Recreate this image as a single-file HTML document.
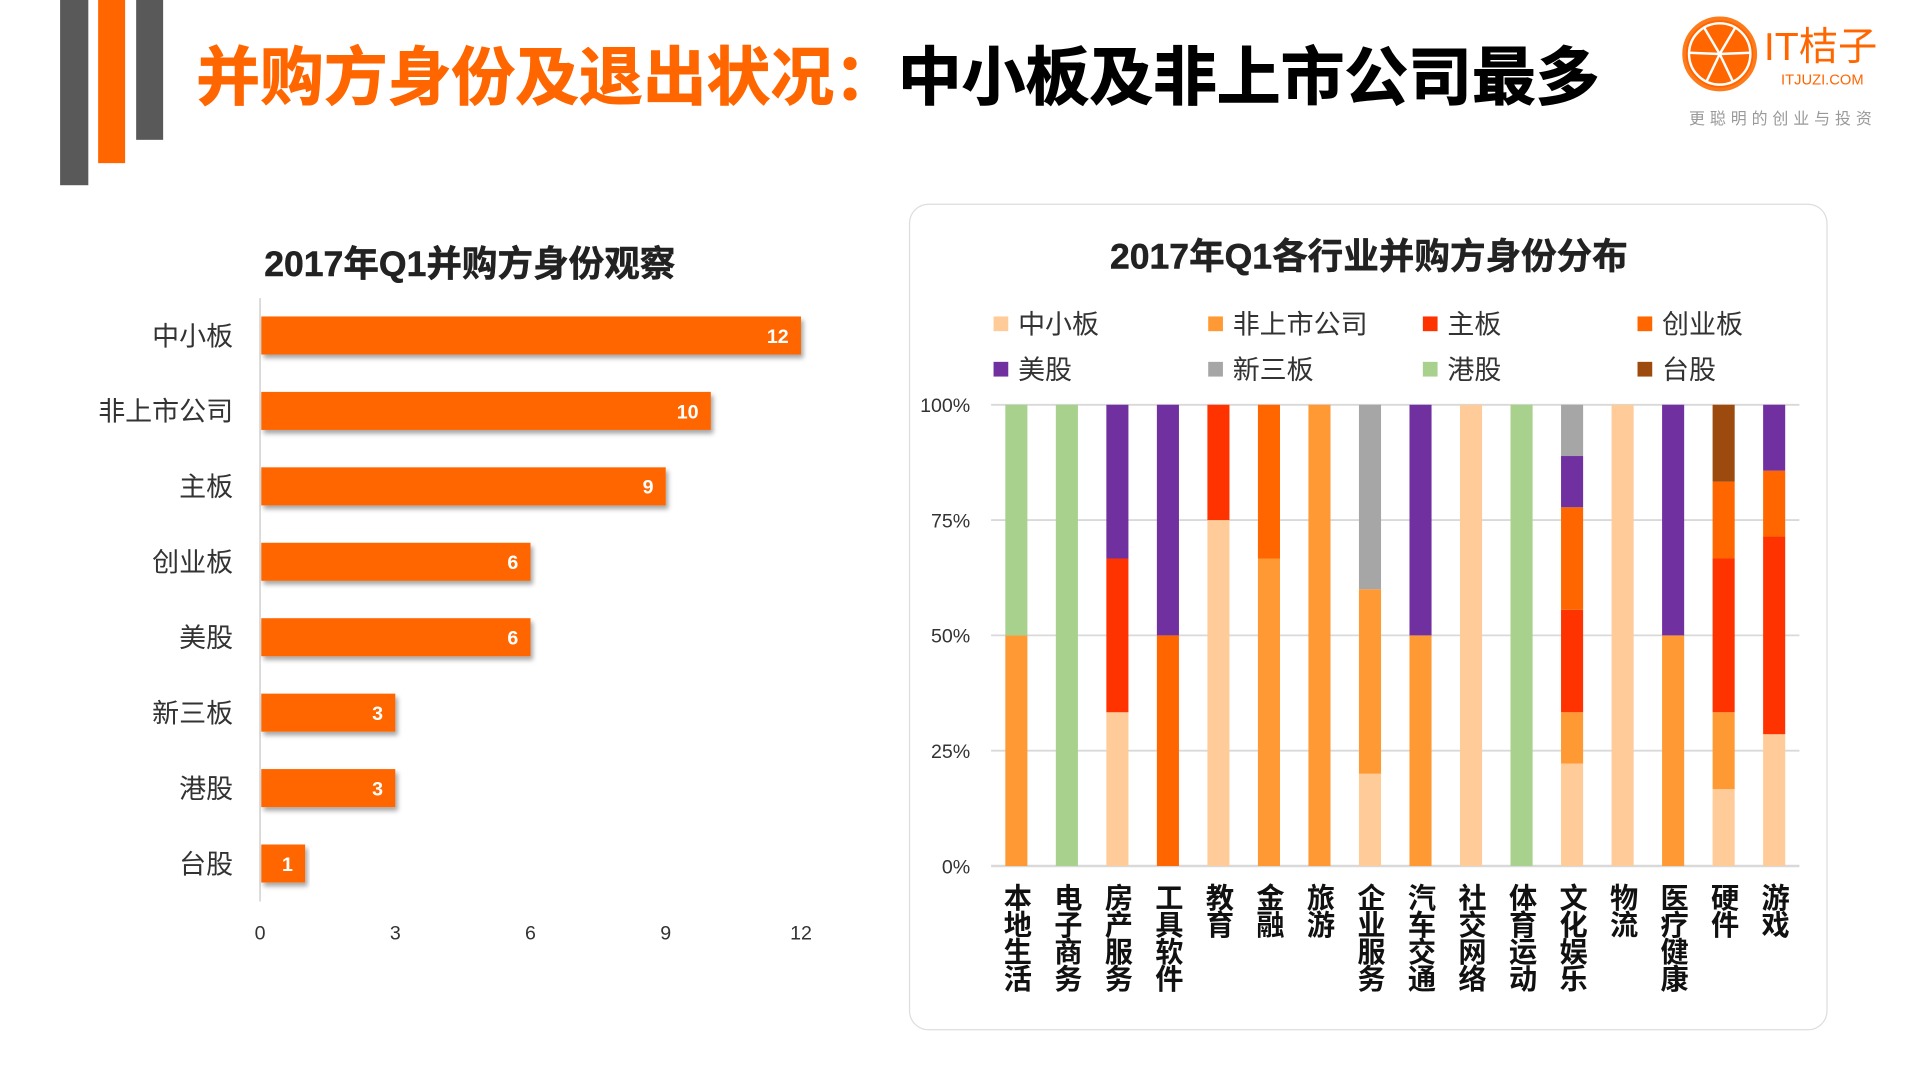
<!DOCTYPE html>
<html><head><meta charset="utf-8">
<style>
html,body{margin:0;padding:0;background:#fff;width:1920px;height:1080px;overflow:hidden}
#stage{position:absolute;left:0;top:0;width:1566px;height:881px;transform:scale(1.2266);transform-origin:0 0;font-family:"Liberation Sans","Noto Sans CJK SC",sans-serif}
.abs{position:absolute}
</style></head>
<body>
<div id="stage">
  <div class="abs" style="left:49px;top:0;width:23px;height:151px;background:#595959"></div>
  <div class="abs" style="left:80px;top:0;width:22px;height:133px;background:#FF6600"></div>
  <div class="abs" style="left:111px;top:0;width:22px;height:114px;background:#595959"></div>
  <div class="abs" style="left:160px;top:31px;font-size:52px;font-weight:bold;white-space:nowrap;line-height:66px;font-family:'Liberation Sans','Noto Sans CJK SC',sans-serif;-webkit-text-stroke:0.8px currentColor"><span style="color:#FF6600">并购方身份及退出状况：</span><span style="color:#000">中小板及非上市公司最多</span></div>
  <svg class="abs" style="left:1368px;top:10px" width="70" height="70">
    <circle cx="34" cy="34" r="29" fill="#FF6600"/>
    <circle cx="34" cy="34" r="29" fill="none" stroke="#FF7A1A" stroke-width="3"/>
    <circle cx="34" cy="34" r="25" fill="none" stroke="#fff" stroke-width="2"/>
    <g stroke="#fff" stroke-width="2"><line x1="34" y1="34" x2="21" y2="12"/><line x1="34" y1="34" x2="47" y2="12"/><line x1="34" y1="34" x2="59" y2="33"/><line x1="34" y1="34" x2="9" y2="33"/><line x1="34" y1="34" x2="23" y2="57"/><line x1="34" y1="34" x2="45" y2="57"/></g>
  </svg>
  <div class="abs" style="left:1438px;top:18px;font-size:32px;color:#FF6600;line-height:40px;white-space:nowrap">IT桔子</div>
  <div class="abs" style="left:1452px;top:58px;font-size:12px;color:#FF6600;white-space:nowrap">ITJUZI.COM</div>
  <div class="abs" style="left:1377px;top:86px;font-size:13px;color:#999;letter-spacing:4px;white-space:nowrap">更聪明的创业与投资</div>

  <div class="abs" style="left:183px;top:192px;width:400px;text-align:center;font-size:29px;font-weight:bold;color:#222;white-space:nowrap;-webkit-text-stroke:0.4px #222">2017年Q1并购方身份观察</div>
  <svg id="left" class="abs" style="left:0;top:0" width="720" height="800"></svg>

  <div class="abs" style="left:741px;top:166px;width:749px;height:674px;border:1.5px solid #ddd;border-radius:16px;box-sizing:border-box"></div>
  <div class="abs" style="left:866px;top:186px;width:500px;text-align:center;font-size:29px;font-weight:bold;color:#222;white-space:nowrap;-webkit-text-stroke:0.4px #222">2017年Q1各行业并购方身份分布</div>
  <svg id="right" class="abs" style="left:0;top:0" width="1546" height="870"></svg>
</div>
<script>
const NS="http://www.w3.org/2000/svg";
function mk(p,t,a){const e=document.createElementNS(NS,t);for(const k in a)e.setAttribute(k,a[k]);p.appendChild(e);return e;}

// Left chart data
const leftCats=["中小板","非上市公司","主板","创业板","美股","新三板","港股","台股"];
const leftVals=[12,10,9,6,6,3,3,1];
const leftTicks=[0,3,6,9,12];
(function(){
  const s=document.getElementById('left');
  const x0=212,x1=653,xmax=12;const X=v=>x0+(x1-x0)*v/xmax;
  const yTop=258,step=61.5,bh=31;const Y=i=>yTop+i*step;
  const defs=mk(s,'defs',{});
  const f=mk(defs,'filter',{id:'sh',x:'-5%',y:'-20%',width:'115%',height:'160%'});
  mk(f,'feDropShadow',{dx:'2',dy:'3',stdDeviation:'2','flood-color':'#000','flood-opacity':'0.35'});
  const ax=mk(s,'line',{x1:x0,y1:243,x2:x0,y2:735,stroke:'#d9d9d9','stroke-width':1.5});
  
  leftCats.forEach((c,i)=>{
    const r=mk(s,'rect',{x:x0+1,y:Y(i),width:X(leftVals[i])-x0-1,height:bh,fill:'#FF6600',filter:'url(#sh)'});
    
    const t=mk(s,'text',{x:190,y:Y(i)+bh/2+8,'text-anchor':'end','font-size':22,fill:'#333'});t.textContent=c;
    
    const v=mk(s,'text',{x:X(leftVals[i])-10,y:Y(i)+bh/2+6,'text-anchor':'end','font-size':16,'font-weight':'bold',fill:'#fff'});v.textContent=leftVals[i];
    
  });
  leftTicks.forEach(tk=>{
    const t=mk(s,'text',{x:X(tk),y:766,'text-anchor':'middle','font-size':16,fill:'#333'});t.textContent=tk;
    
  });
})();

// Right chart data
const series=["中小板","非上市公司","主板","创业板","美股","新三板","港股","台股"];
const colors=["#FFCC99","#FF9933","#FF3300","#FF6600","#7030A0","#A6A6A6","#A9D18E","#9C4A0E"];
const inds=["本地生活","电子商务","房产服务","工具软件","教育","金融","旅游","企业服务","汽车交通","社交网络","体育运动","文化娱乐","物流","医疗健康","硬件","游戏"];
const sZXB=[0,0,1,0,3,0,0,1,0,1,0,2,1,0,1,2];
const sFSS=[1,0,0,0,0,2,1,2,1,0,0,1,0,1,1,0];
const sZB =[0,0,1,0,1,0,0,0,0,0,0,2,0,0,2,3];
const sCYB=[0,0,0,1,0,1,0,0,0,0,0,2,0,0,1,1];
const sMG =[0,0,1,1,0,0,0,0,1,0,0,1,0,1,0,1];
const sXSB=[0,0,0,0,0,0,0,2,0,0,0,1,0,0,0,0];
const sGG =[1,1,0,0,0,0,0,0,0,0,1,0,0,0,0,0];
const sTG =[0,0,0,0,0,0,0,0,0,0,0,0,0,0,1,0];
const yTicks=["0%","25%","50%","75%","100%"];
(function(){
  const s=document.getElementById('right');
  const data=[sZXB,sFSS,sZB,sCYB,sMG,sXSB,sGG,sTG];
  const yb=706,yt=330;const Y=p=>yb-(yb-yt)*p;
  const xl=808,xr=1467;const step=(xr-xl)/inds.length;const X=i=>xl+step*(i+0.5);const bw=18;
  yTicks.forEach((t,i)=>{
    const p=i/(yTicks.length-1);
    const g=mk(s,'line',{x1:xl,x2:xr,y1:Y(p),y2:Y(p),stroke:'#d9d9d9','stroke-width':i==0?2:1.5});
    
    const tx=mk(s,'text',{x:791,y:Y(p)+6,'text-anchor':'end','font-size':16,fill:'#333'});tx.textContent=t;
    
  });
  inds.forEach((c,i)=>{
    let tot=0;data.forEach(d=>tot+=d[i]);
    let acc=0;
    data.forEach((d,k)=>{
      if(!d[i])return;
      const p0=acc/tot,p1=(acc+d[i])/tot;acc+=d[i];
      const r=mk(s,'rect',{x:X(i)-bw/2,y:Y(p1),width:bw,height:Y(p0)-Y(p1),fill:colors[k]});
      
    });
    const t=mk(s,'text',{x:X(i),y:720,'font-size':23,'font-weight':'bold',fill:'#111'});
    t.setAttribute('style','writing-mode:vertical-rl;text-orientation:upright;letter-spacing:-1px');
    t.textContent=c;
    
  });
  const lx=[810,985,1160,1335],ly=[264,301];
  series.forEach((n,k)=>{
    const x=lx[k%4],y=ly[Math.floor(k/4)];
    const r=mk(s,'rect',{x:x,y:y-6,width:12,height:12,fill:colors[k]});
    
    const t=mk(s,'text',{x:x+20,y:y+8,'font-size':22,fill:'#333'});t.textContent=n;
    
  });
})();
</script>
</body></html>
